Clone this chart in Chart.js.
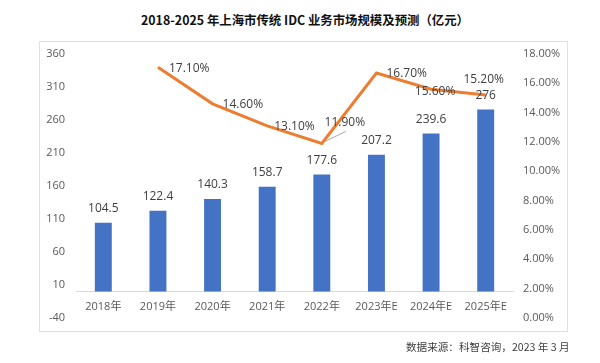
<!DOCTYPE html>
<html>
<head>
<meta charset="utf-8">
<script src="https://cdn.jsdelivr.net/npm/chart.js@4/dist/chart.umd.min.js"></script>
<style>
  body { margin: 0; background: #fff; font-family: "Noto Sans CJK SC", sans-serif; }
  #wrap { position: relative; width: 600px; height: 363px; }
  #title { position: absolute; left: 0; top: 11px; width: 610px; text-align: center;
           font-size: 12.4px; font-weight: bold; color: #111; line-height: 18px; }
  #box { position: absolute; left: 39px; top: 41px; width: 527px; height: 289px; border: 1px solid #e0e0e0; }
  #chartBox { position: absolute; left: 0; top: 0; width: 600px; height: 363px; }
  #source { position: absolute; left: 406px; top: 339px; font-size: 10.6px; color: #404040; line-height: 16px; }
</style>
</head>
<body>
<div id="wrap">
  <div id="title">2018-2025 年上海市传统 IDC 业务市场规模及预测（亿元）</div>
  <div id="box"></div>
  <div id="chartBox"><canvas id="chart1"></canvas></div>
  <div id="source">数据来源：科智咨询，2023 年 3 月</div>
</div>
<script>
// data
var years = ['2018年', '2019年', '2020年', '2021年', '2022年', '2023年E', '2024年E', '2025年E'];
var marketSize = [104.5, 122.4, 140.3, 158.7, 177.6, 207.2, 239.6, 276];
var growthRate = [null, 17.1, 14.6, 13.1, 11.9, 16.7, 15.6, 15.2];
var leftTicks = { min: -40, max: 360, step: 50 };
var rightTicks = { min: 0, max: 18, step: 2 };

var tickFont = { family: '"Open Sans", "Noto Sans CJK SC", sans-serif', size: 11 };
var tickColor = '#595959';

// where each growth label sits relative to its point [dx, dy, align]
var rateLabelPos = [null, [11, 1, 'left'], [10, 1, 'left'], [7, 1, 'left'], [23, -21, 'center'],
                    [10, 1, 'left'], [4, 2, 'center'], [-2, -15, 'center']];

var valueLabels = {
    id: 'valueLabels',
    afterDatasetsDraw: function(chart) {
        var ctx = chart.ctx;
        ctx.save();
        ctx.font = '12px "Open Sans", sans-serif';
        ctx.fillStyle = '#404040';
        ctx.textBaseline = 'middle';

        // bar values
        var bars = chart.getDatasetMeta(1).data;
        ctx.textAlign = 'center';
        bars.forEach(function(bar, i) {
            ctx.fillText(String(marketSize[i]), bar.x, bar.y - 14);
        });

        // growth rates
        var pts = chart.getDatasetMeta(0).data;
        pts.forEach(function(pt, i) {
            if (growthRate[i] == null) return;
            var p = rateLabelPos[i];
            if (i === 4) {
                ctx.strokeStyle = '#a6a6a6';
                ctx.lineWidth = 1;
                ctx.beginPath();
                ctx.moveTo(pt.x + 3, pt.y - 2);
                ctx.lineTo(pt.x + 24, pt.y - 12);
                ctx.stroke();
            }
            ctx.textAlign = p[2];
            ctx.fillText(growthRate[i].toFixed(2) + '%', pt.x + p[0], pt.y + p[1]);
        });
        ctx.restore();
    }
};

var ctx = document.getElementById('chart1').getContext('2d');
var myChart = new Chart(ctx, {
    type: 'bar',
    data: {
        labels: years,
        datasets: [{
            type: 'line',
            label: '增长率',
            data: growthRate,
            yAxisID: 'y1',
            borderColor: '#ED7D31',
            backgroundColor: '#ED7D31',
            borderWidth: 3,
            pointRadius: 0,
            tension: 0,
            order: 0
        }, {
            type: 'bar',
            label: '市场规模',
            data: marketSize,
            yAxisID: 'y',
            backgroundColor: '#4472C4',
            categoryPercentage: 1,
            barPercentage: 0.31,
            order: 1
        }]
    },
    options: {
        responsive: true,
        maintainAspectRatio: false,
        animation: false,
        layout: { padding: { left: 40, right: 40, top: 54, bottom: 45 } },
        plugins: {
            legend: { display: false },
            tooltip: { enabled: false }
        },
        scales: {
            x: {
                position: { y: 0 },
                grid: { display: true, color: 'rgba(0,0,0,0)', drawTicks: false },
                border: { color: '#d9d9d9', width: 1 },
                ticks: { color: tickColor, font: tickFont, padding: 9, maxRotation: 0 }
            },
            y: {
                position: 'left',
                min: leftTicks.min,
                max: leftTicks.max,
                grid: { display: false, drawTicks: false },
                border: { display: false },
                ticks: { stepSize: leftTicks.step, color: tickColor, font: tickFont, padding: 11 },
                afterFit: function(s) { s.width = 36; }
            },
            y1: {
                position: 'right',
                min: rightTicks.min,
                max: rightTicks.max,
                grid: { display: false, drawTicks: false },
                border: { display: false },
                ticks: {
                    stepSize: rightTicks.step, color: tickColor, font: tickFont, padding: 10,
                    callback: function(v) { return v.toFixed(2) + '%'; }
                },
                afterFit: function(s) { s.width = 47; }
            }
        }
    },
    plugins: [valueLabels]
});
</script>
</body>
</html>
